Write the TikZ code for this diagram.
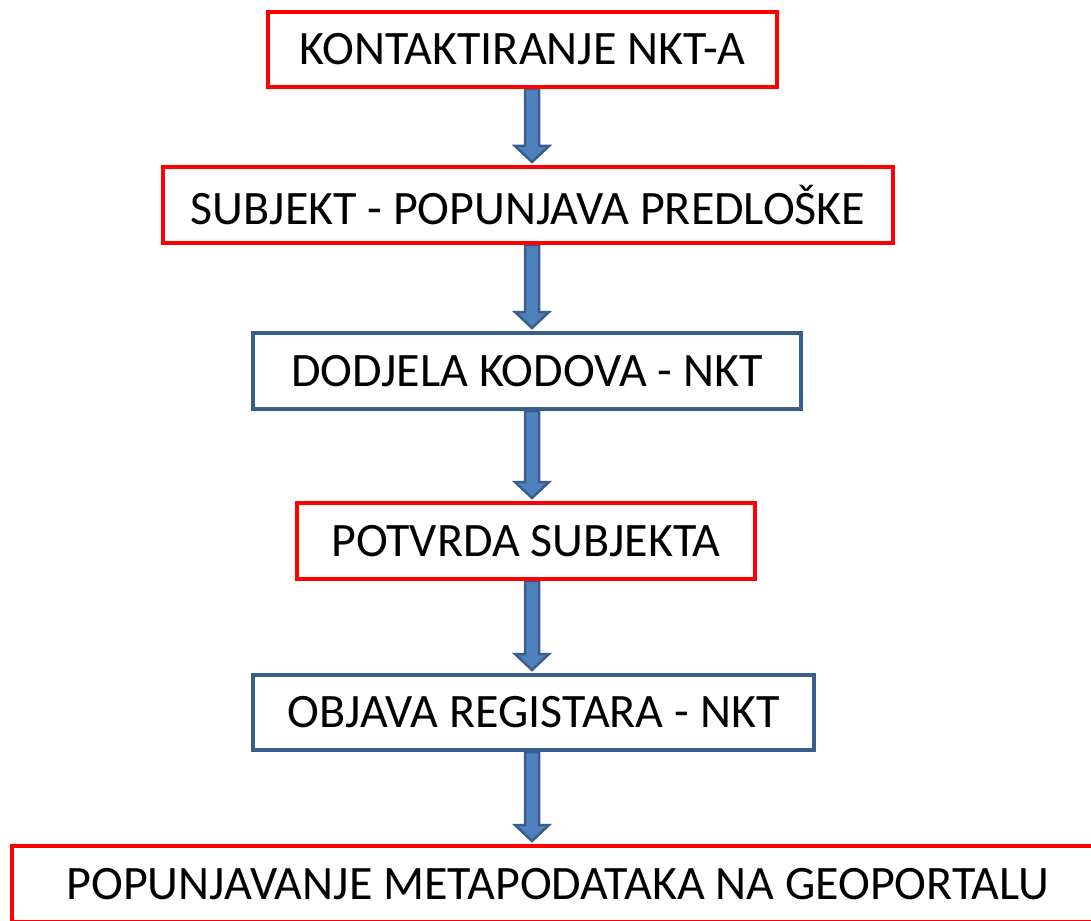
\documentclass[tikz,border=0pt]{standalone}
\usepackage{fontspec}
\setmainfont{Carlito}
\usetikzlibrary{calc}
\pgfdeclarelayer{background}
\pgfsetlayers{background,main}
\definecolor{boxred}{HTML}{FF0000}
\definecolor{boxblue}{HTML}{3A5E8C}
\definecolor{arrfill}{HTML}{4F81BD}
\definecolor{arrline}{HTML}{3A5E8C}
\tikzset{
  flowbox/.style={draw, line width=4pt, fill=white, rectangle, inner sep=0pt,
    font=\fontsize{48}{54}\selectfont, text=black},
  redbox/.style={flowbox, draw=boxred},
  bluebox/.style={flowbox, draw=boxblue},
  flowarr/.style={fill=arrfill, draw=arrline, line width=2.5pt, line join=miter},
}
\newcommand\flowarrow[2]{%
  \draw[flowarr] ($(ax |- #1.south)+(-7,0)$) -- ($(ax |- #2.north)+(-7,-19)$)
    -- ($(ax |- #2.north)+(-17,-19)$) -- ($(ax |- #2.north)+(0,-3)$)
    -- ($(ax |- #2.north)+(17,-19)$) -- ($(ax |- #2.north)+(7,-19)$)
    -- ($(ax |- #1.south)+(7,0)$) -- cycle;}
\begin{document}
\begin{tikzpicture}[x=1pt, y=-1pt]
\useasboundingbox (0,0) rectangle (1091,920);
\coordinate (ax) at (532,0);
\node[redbox, minimum width=509pt, minimum height=75pt] (n1) at (522.5,49.5) {KONTAKTIRANJE NKT-A};
\node[redbox, minimum width=730pt, minimum height=76pt] (n2) at (528,205) {SUBJEKT - POPUNJAVA PREDLOŠKE};
\node[bluebox, minimum width=548pt, minimum height=76pt] (n3) at (527,371) {DODJELA KODOVA - NKT};
\node[redbox, minimum width=458pt, minimum height=76pt] (n4) at (526,541) {POTVRDA SUBJEKTA};
\node[bluebox, minimum width=561pt, minimum height=75pt] (n5) at (533.5,712.5) {OBJAVA REGISTARA - NKT};
\node[redbox, minimum width=1092pt, minimum height=76pt] (n6) at (558,884) {POPUNJAVANJE METAPODATAKA NA GEOPORTALU};
\begin{pgfonlayer}{background}
\flowarrow{n1}{n2}
\flowarrow{n2}{n3}
\flowarrow{n3}{n4}
\flowarrow{n4}{n5}
\flowarrow{n5}{n6}
\end{pgfonlayer}
\end{tikzpicture}
\end{document}
